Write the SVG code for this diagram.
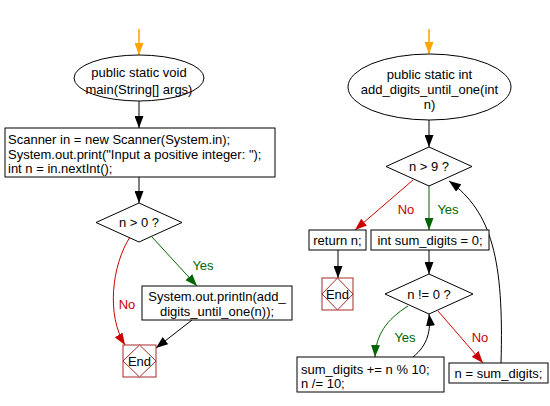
<svg xmlns="http://www.w3.org/2000/svg" width="550" height="406" viewBox="0 0 550 406">
<style>
text{font-family:"Liberation Sans",Arial,sans-serif;font-size:13px;fill:#000}
.c{text-anchor:middle}
.box{fill:#fff;stroke:#000;stroke-width:1}
.end{fill:#fff;stroke:#a52a2a;stroke-width:1}
.k{fill:none;stroke:#000;stroke-width:1}
.o{fill:none;stroke:#ffa500;stroke-width:1.5}
.g{fill:none;stroke:#006400;stroke-width:1}
.r{fill:none;stroke:#cc0000;stroke-width:1}
.gt{fill:#006400}
.rt{fill:#cc0000}
</style>
<defs>
<marker id="ak" markerUnits="userSpaceOnUse" markerWidth="12" markerHeight="9" refX="12" refY="4.5" orient="auto"><path d="M0,0L12,4.5L0,9z" fill="#000"/></marker>
<marker id="ao" markerUnits="userSpaceOnUse" markerWidth="12" markerHeight="9" refX="12" refY="4.5" orient="auto"><path d="M0,0L12,4.5L0,9z" fill="#ffa500"/></marker>
<marker id="ag" markerUnits="userSpaceOnUse" markerWidth="12" markerHeight="9" refX="12" refY="4.5" orient="auto"><path d="M0,0L12,4.5L0,9z" fill="#006400"/></marker>
<marker id="ar" markerUnits="userSpaceOnUse" markerWidth="12" markerHeight="9" refX="12" refY="4.5" orient="auto"><path d="M0,0L12,4.5L0,9z" fill="#cc0000"/></marker>
</defs>
<g id="connectors">
<path class="o" d="M139,29V55" marker-end="url(#ao)"/>
<path class="k" d="M139,101V128" marker-end="url(#ak)"/>
<path class="k" d="M139,177V203" marker-end="url(#ak)"/>
<path class="g" d="M152,237L197,286" marker-end="url(#ag)"/>
<path class="r" d="M130,237C112,265 106,315 125,345" marker-end="url(#ar)"/>
<path class="k" d="M192,320L156,348" marker-end="url(#ak)"/>
<path class="o" d="M429,29V54" marker-end="url(#ao)"/>
<path class="k" d="M429,120V147" marker-end="url(#ak)"/>
<path class="r" d="M413,180L355,230" marker-end="url(#ar)"/>
<path class="g" d="M429,186V230" marker-end="url(#ag)"/>
<path class="k" d="M338,250V278" marker-end="url(#ak)"/>
<path class="k" d="M429,250V274" marker-end="url(#ak)"/>
<path class="g" d="M408,306C386,320 376,335 375,357" marker-end="url(#ag)"/>
<path class="k" d="M413,357C428,345 431,330 429,314" marker-end="url(#ak)"/>
<path class="r" d="M438,311L483,363" marker-end="url(#ar)"/>
<path class="k" d="M501,363C504,260 492,212 449,181" marker-end="url(#ak)"/>
<text class="c gt" x="203" y="270">Yes</text>
<text class="c rt" x="127" y="309">No</text>
<text class="c rt" x="406" y="214">No</text>
<text class="c gt" x="448" y="214">Yes</text>
<text class="c gt" x="405" y="342">Yes</text>
<text class="c rt" x="480" y="342">No</text>
</g>
<g id="start1">
<ellipse class="box" cx="139" cy="78" rx="65" ry="23"/>
<text class="c" x="139" y="77">public static void</text>
<text class="c" x="139" y="94">main(String[] args)</text>
</g>
<g id="init">
<rect class="box" x="5" y="128" width="270" height="49"/>
<text x="8" y="144">Scanner in = new Scanner(System.in);</text>
<text x="8" y="159">System.out.print("Input a positive integer: ");</text>
<text x="8" y="173">int n = in.nextInt();</text>
</g>
<g id="cond1">
<polygon class="box" points="139,203 182,222.5 139,242 96,222.5"/>
<text class="c" x="139" y="227">n &gt; 0 ?</text>
</g>
<g id="print">
<rect class="box" x="142" y="286" width="150" height="34"/>
<text class="c" x="217" y="301">System.out.println(add_</text>
<text class="c" x="217" y="316">digits_until_one(n));</text>
</g>
<g id="end1">
<rect class="end" x="123" y="345" width="33" height="32"/>
<polygon class="end" points="139.5,345 156,361 139.5,377 123,361"/>
<text class="c" x="139.5" y="365.5">End</text>
</g>
<g id="start2">
<ellipse class="box" cx="429.5" cy="87" rx="81.5" ry="33"/>
<text class="c" x="429.5" y="79">public static int</text>
<text class="c" x="429.5" y="94">add_digits_until_one(int</text>
<text class="c" x="429.5" y="109">n)</text>
</g>
<g id="cond2">
<polygon class="box" points="429,147 472,166.5 429,186 386,166.5"/>
<text class="c" x="429" y="171">n &gt; 9 ?</text>
</g>
<g id="ret">
<rect class="box" x="309" y="230" width="57" height="20"/>
<text class="c" x="337.5" y="244.5">return n;</text>
</g>
<g id="sumInit">
<rect class="box" x="371" y="230" width="118" height="20"/>
<text class="c" x="430" y="244.5">int sum_digits = 0;</text>
</g>
<g id="end2">
<rect class="end" x="322" y="278" width="31" height="32"/>
<polygon class="end" points="337.5,278 353,294 337.5,310 322,294"/>
<text class="c" x="337.5" y="298.5">End</text>
</g>
<g id="cond3">
<polygon class="box" points="429,274 473,294 429,314 385,294"/>
<text class="c" x="429" y="298.5">n != 0 ?</text>
</g>
<g id="loopBody">
<rect class="box" x="297" y="357" width="147" height="35"/>
<text x="301" y="374">sum_digits += n % 10;</text>
<text x="301" y="388">n /= 10;</text>
</g>
<g id="assign">
<rect class="box" x="449" y="363" width="99" height="20"/>
<text class="c" x="498.5" y="377.5">n = sum_digits;</text>
</g>
</svg>
